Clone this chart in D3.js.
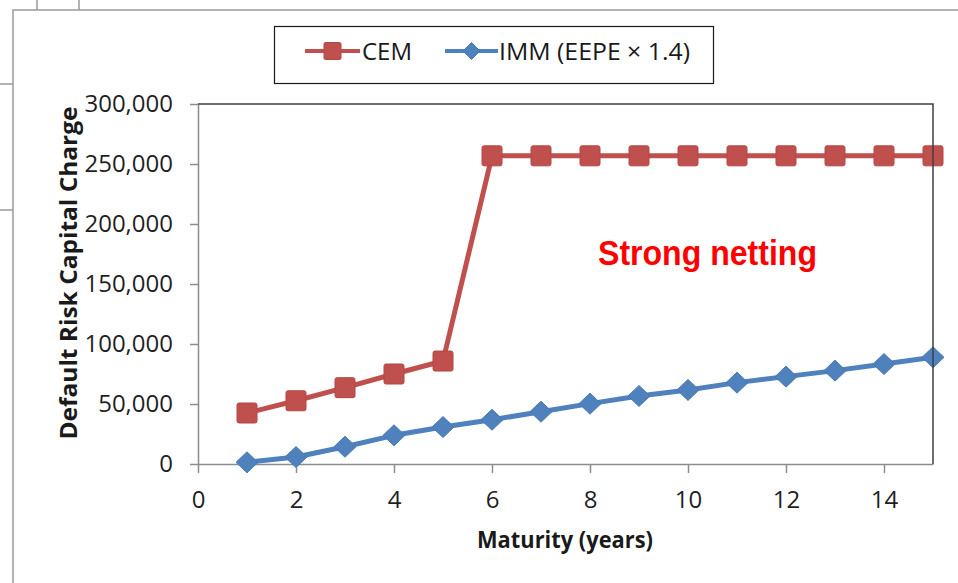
<!DOCTYPE html>
<html>
<head>
<meta charset="utf-8">
<script src="https://cdn.jsdelivr.net/npm/d3@7"></script>
<style>
  html, body { margin: 0; padding: 0; background: #fff; }
  svg { display: block; }
</style>
</head>
<body>
<svg id="chart" width="958" height="583"></svg>
<script>
// Maturity in years and the default risk capital charge under each method
const years = [1, 2, 3, 4, 5, 6, 7, 8, 9, 10, 11, 12, 13, 14, 15];
const cem = [42500, 52700, 63600, 75000, 85800, 256800, 256800, 256800, 256800, 256800, 256800, 256800, 256800, 256800, 256800];
const imm = [1400, 5800, 14400, 23900, 30800, 36900, 43600, 50300, 56700, 61700, 67800, 72800, 77800, 83300, 88900];

const seriesNames = ["CEM", "IMM (EEPE \u00d7 1.4)"];
const xTicks = [0, 2, 4, 6, 8, 10, 12, 14];
const yTicks = [0, 50000, 100000, 150000, 200000, 250000, 300000];
const xTitle = "Maturity (years)";
const yTitle = "Default Risk Capital Charge";
const note = "Strong netting";

const red = "#C0504D", redEdge = "#B44744";
const blue = "#4F81BD", blueEdge = "#4A7AB4";
const font = "'Open Sans', 'Noto Sans', sans-serif";

const svg = d3.select("#chart");
svg.append("rect").attr("width", 958).attr("height", 583).attr("fill", "#fff");

// Surrounding page frame lines
const frame = svg.append("g").attr("stroke", "#9a9a9a").attr("stroke-width", 1.5).attr("fill", "none");
frame.append("path").attr("d", "M13,583 L13,10 L958,10");
frame.append("path").attr("d", "M37,0 L37,10 M79,0 L79,10");
frame.append("path").attr("d", "M0,84 L13,84 M0,210 L13,210");

const x = d3.scaleLinear().domain([0, 15]).range([198, 933]);
const y = d3.scaleLinear().domain([0, 300000]).range([464, 104]);

// Axes
const yAxis = svg.append("g").attr("transform", `translate(${x(0)},0)`)
  .call(d3.axisLeft(y).tickValues(yTicks).tickSize(8).tickSizeOuter(0).tickPadding(17).tickFormat(d3.format(",")));
const xAxis = svg.append("g").attr("transform", `translate(0,${y(0)})`)
  .call(d3.axisBottom(x).tickValues(xTicks).tickSize(9).tickSizeOuter(0).tickPadding(0).tickFormat(d3.format("d")));
[xAxis, yAxis].forEach(g => {
  g.select(".domain").attr("stroke", "#8c8c8c").attr("stroke-width", 1.5);
  g.selectAll(".tick line").attr("stroke", "#8c8c8c").attr("stroke-width", 1.5);
  g.selectAll("text").attr("font-family", font).attr("font-size", 24).attr("fill", "#1f1f1f");
});
xAxis.selectAll("text").attr("dy", 0).attr("y", 44);

// Series lines and markers
const line = d3.line().x((d, i) => x(years[i])).y(d => y(d));
svg.append("path").datum(cem).attr("d", line)
  .attr("fill", "none").attr("stroke", red).attr("stroke-width", 5).attr("stroke-linejoin", "round");
svg.append("path").datum(imm).attr("d", line)
  .attr("fill", "none").attr("stroke", blue).attr("stroke-width", 5).attr("stroke-linejoin", "round");

const sq = 20;
svg.append("g").selectAll("rect").data(cem).join("rect")
  .attr("x", (d, i) => x(years[i]) - sq / 2).attr("y", d => y(d) - sq / 2)
  .attr("width", sq).attr("height", sq).attr("rx", 2)
  .attr("fill", red).attr("stroke", redEdge).attr("stroke-width", 1);

const diamond = (hw, hh) => `M0,${-hh}L${hw},0L0,${hh}L${-hw},0Z`;
svg.append("g").selectAll("path").data(imm).join("path")
  .attr("transform", (d, i) => `translate(${x(years[i])},${y(d)})`)
  .attr("d", diamond(11, 10.5))
  .attr("fill", blue).attr("stroke", blueEdge).attr("stroke-width", 1);

// Plot area top and right border
svg.append("path").attr("d", `M${x(0)},${y(300000)} L${x(15)},${y(300000)} L${x(15)},${y(0)}`)
  .attr("fill", "none").attr("stroke", "#3f3f3f").attr("stroke-width", 1.5);

// Axis titles
svg.append("text").text(yTitle)
  .attr("transform", "translate(77,273) rotate(-90)")
  .attr("text-anchor", "middle").attr("font-family", font).attr("font-weight", 700)
  .attr("font-size", 23).attr("fill", "#1a1a1a")
  .attr("textLength", 333).attr("lengthAdjust", "spacingAndGlyphs");
svg.append("text").text(xTitle)
  .attr("x", 565).attr("y", 548)
  .attr("text-anchor", "middle").attr("font-family", font).attr("font-weight", 700)
  .attr("font-size", 23).attr("fill", "#1a1a1a")
  .attr("textLength", 176).attr("lengthAdjust", "spacingAndGlyphs");

// Annotation
svg.append("text").text(note)
  .attr("x", 598).attr("y", 265)
  .attr("font-family", "'Liberation Sans Narrow', 'Arial Narrow', 'Liberation Sans', sans-serif")
  .attr("font-weight", 700).attr("font-size", 35).attr("fill", "#FF0000")
  .attr("textLength", 219).attr("lengthAdjust", "spacingAndGlyphs");

// Legend
const legend = svg.append("g");
legend.append("rect").attr("x", 274.5).attr("y", 26.5).attr("width", 439).attr("height", 57)
  .attr("fill", "#fff").attr("stroke", "#1a1a1a").attr("stroke-width", 1.2);
const legendItems = [
  { name: seriesNames[0], x0: 305, x1: 360, tx: 362, tw: 50, color: red, edge: redEdge, kind: "square" },
  { name: seriesNames[1], x0: 445, x1: 498, tx: 499, tw: 191, color: blue, edge: blueEdge, kind: "diamond" }
];
const ly = 51;
legendItems.forEach(it => {
  legend.append("line").attr("x1", it.x0).attr("x2", it.x1).attr("y1", ly).attr("y2", ly)
    .attr("stroke", it.color).attr("stroke-width", 4);
  const cx = (it.x0 + it.x1) / 2;
  if (it.kind === "square") {
    legend.append("rect").attr("x", cx - 8.5).attr("y", ly - 8.5).attr("width", 17).attr("height", 17)
      .attr("rx", 1.5).attr("fill", it.color).attr("stroke", it.edge);
  } else {
    legend.append("path").attr("transform", `translate(${cx},${ly})`).attr("d", diamond(8.5, 8.5))
      .attr("fill", it.color).attr("stroke", it.edge);
  }
  legend.append("text").text(it.name).attr("x", it.tx).attr("y", ly + 8.5)
    .attr("font-family", font).attr("font-size", 24).attr("fill", "#1a1a1a")
    .attr("textLength", it.tw).attr("lengthAdjust", "spacingAndGlyphs");
});
</script>
</body>
</html>
